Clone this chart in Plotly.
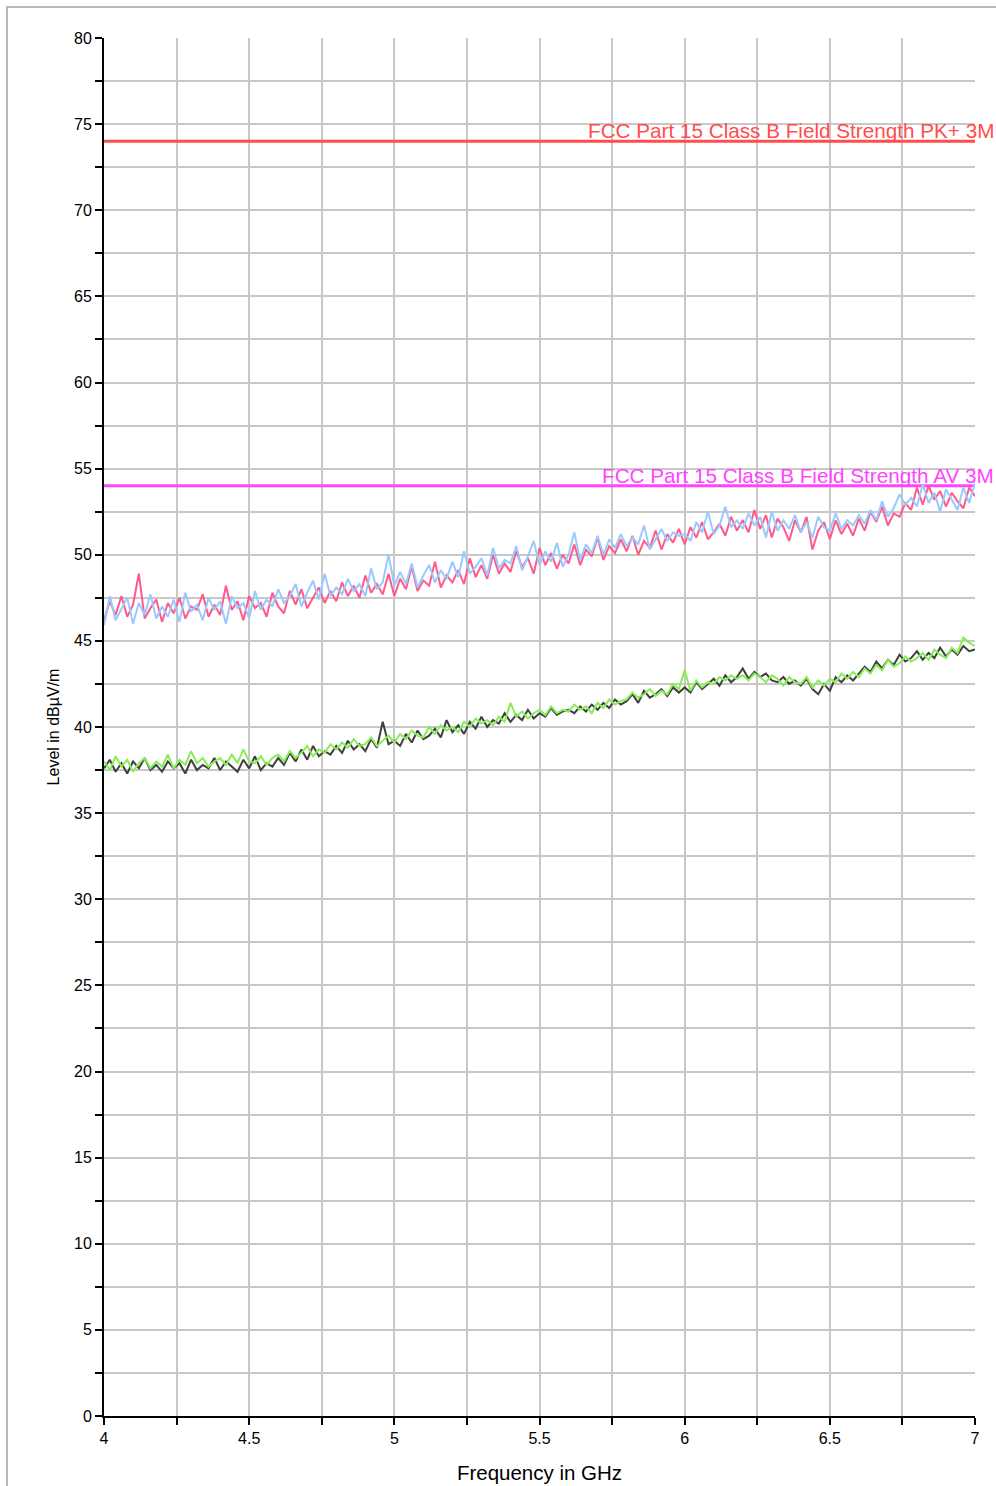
import numpy as np
import plotly.graph_objects as go

# Frequency sweep (GHz)
freq = np.round(np.linspace(4.0, 7.0, 151), 3).tolist()

# Peak detector trace 1 (pink)
peak_a = [
    46.2, 47.3, 46.5, 47.6, 46.4, 47.1, 48.9, 46.3, 46.9, 47.4,
    46.1, 47.2, 46.6, 47.5, 46.3, 47.0, 46.8, 47.7, 46.4, 47.1,
    46.5, 48.2, 46.8, 47.3, 46.2, 47.6, 46.9, 47.2, 46.4, 47.8,
    47.0, 46.6, 47.9, 47.1, 48.0, 46.9, 47.5, 48.1, 47.2, 47.9,
    47.3, 48.4, 47.6, 48.2, 47.5, 48.8, 47.8, 48.3, 47.7, 48.9,
    47.6, 48.6, 48.0, 49.3, 47.9, 48.5, 48.2, 49.6, 48.1, 48.8,
    48.4, 49.1, 48.3, 49.8, 48.7, 49.4, 48.6, 50.0, 48.9, 49.5,
    49.0, 50.2, 49.3, 49.8, 48.9, 50.4, 49.4, 50.1, 49.2, 50.0,
    49.5, 50.6, 49.4, 50.3, 49.9, 51.0, 49.7, 50.5, 50.1, 50.9,
    50.2, 51.1, 50.0, 50.8, 50.4, 51.4, 50.3, 51.2, 50.7, 51.5,
    50.6, 51.6, 51.0, 51.9, 50.9, 51.3, 51.8, 51.1, 52.2, 51.4,
    52.0, 51.3, 52.6, 51.5, 52.3, 51.0, 52.1, 51.6, 50.8, 52.0,
    51.3, 52.2, 50.3, 51.4, 51.9, 50.9, 52.0, 51.2, 51.8, 51.1,
    52.1, 51.4, 52.5, 51.9, 52.8, 51.7, 52.4, 52.2, 53.0, 52.6,
    53.9, 52.9, 54.0, 53.2, 53.7, 52.8, 53.6, 53.1, 52.7, 53.9,
    53.4,
]

# Peak detector trace 2 (light blue)
peak_b = [
    45.9, 47.6, 46.2, 46.9, 47.5, 46.0, 47.2, 46.5, 47.7, 46.3,
    47.0, 46.4, 47.4, 46.1, 47.8, 46.7, 47.1, 46.2, 47.5, 46.8,
    47.3, 46.0, 47.6, 46.9, 47.2, 46.3, 47.9, 46.8, 47.4, 47.0,
    48.0, 47.2, 47.6, 48.3, 47.0, 47.8, 48.5, 47.4, 48.9, 47.6,
    48.1, 47.7, 48.6, 47.9, 48.3, 47.6, 49.2, 48.0, 48.4, 50.0,
    48.2, 49.0, 48.3, 49.5, 48.1, 48.8, 49.4, 48.4, 49.1, 48.6,
    49.6, 48.7, 50.2, 48.9, 49.3, 49.8, 48.8, 50.4, 49.2, 49.7,
    49.5, 50.5, 49.1, 49.9, 50.8, 49.4, 50.2, 49.6, 50.7, 49.3,
    50.0, 51.3, 49.7, 50.6, 50.1, 51.1, 50.0, 50.9, 50.4, 51.2,
    50.5, 51.0, 50.6, 51.7, 50.3, 50.9, 51.5, 50.8, 51.3, 51.1,
    51.2, 50.8, 51.9, 51.3, 52.5, 51.2, 51.7, 52.8, 51.6, 52.0,
    51.5, 52.4, 51.7, 52.2, 51.0, 52.5, 51.4, 52.0, 51.5, 52.3,
    51.3, 51.9, 51.0, 52.2, 51.6, 51.4, 52.4, 51.5, 52.0, 51.7,
    52.3, 51.8, 52.6, 52.0, 53.1, 52.2, 52.7, 53.5, 52.9, 53.3,
    52.8, 54.1, 53.0, 53.6, 52.5, 53.8, 53.2, 52.6, 53.9, 53.0,
    54.2,
]

# Average detector trace 1 (dark grey)
avg_a = [
    37.6, 38.1, 37.4, 37.9, 37.3, 38.0, 37.6, 38.2, 37.5, 37.8,
    37.4, 38.0, 37.6, 37.9, 37.3, 38.1, 37.5, 37.8, 37.6, 38.2,
    37.5, 38.0, 37.7, 37.4, 38.1, 37.6, 38.3, 37.5, 37.9, 37.7,
    38.2, 37.8, 38.5, 38.0, 38.7, 38.1, 38.9, 38.3, 38.6, 38.4,
    38.9, 38.5, 39.2, 38.7, 39.0, 38.6, 39.3, 38.8, 40.3, 39.0,
    39.2, 38.9, 39.6, 39.1, 39.8, 39.3, 39.5, 39.9, 39.4, 40.4,
    39.7, 40.1, 39.6, 40.3, 39.9, 40.6, 40.0, 40.4, 40.2, 40.8,
    40.3, 40.7, 40.4, 41.0, 40.5, 40.8, 40.6, 41.1, 40.7, 40.9,
    41.0, 40.8, 41.2, 40.9, 41.3, 41.0, 41.4, 41.1, 41.6, 41.3,
    41.5, 41.9, 41.4, 42.1, 41.7, 41.9, 42.2, 41.8, 42.3, 42.0,
    42.3, 42.0, 42.6, 42.2, 42.5, 42.8, 42.4, 43.0, 42.6, 42.9,
    43.4, 42.8, 43.2, 42.9, 43.1, 42.7, 42.6, 42.9, 42.5, 42.7,
    42.4, 42.8, 42.2, 41.9, 42.5, 42.1, 42.9, 42.6, 43.0, 42.7,
    43.1, 43.5, 43.2, 43.8, 43.4, 43.9, 43.6, 44.2, 43.8, 44.0,
    44.4, 43.9, 44.3, 44.0, 44.6, 44.1, 44.5, 44.2, 44.7, 44.4,
    44.5,
]

# Average detector trace 2 (light green)
avg_b = [
    38.0, 37.5, 38.3, 37.7, 38.1, 37.4, 37.9, 38.2, 37.6, 38.0,
    37.7, 38.4, 37.6, 38.1, 37.8, 38.6, 37.9, 38.2, 37.7, 38.0,
    38.2, 37.8, 38.4, 37.9, 38.7, 38.0, 37.9, 38.3, 37.8, 38.2,
    38.4, 38.0, 38.6, 38.2, 38.5, 38.9, 38.3, 38.7, 38.5, 39.0,
    38.7, 39.1, 38.8, 39.3, 38.9, 39.0, 39.4, 38.9, 39.2, 39.5,
    39.1, 39.6, 39.3, 39.8, 39.5, 39.4, 40.0, 39.6, 40.1, 39.8,
    40.0, 39.7, 40.3, 40.0, 40.5, 40.2, 40.4, 40.1, 40.6, 40.3,
    41.4, 40.6, 40.9, 40.5, 40.8, 41.0, 40.7, 41.2, 40.8, 41.0,
    40.9, 41.3, 41.0, 41.2, 40.8, 41.4, 41.1, 41.6, 41.3, 41.5,
    41.6, 42.0, 41.7, 41.9, 42.2, 41.8, 42.1, 41.9, 42.5, 42.2,
    43.3, 42.1, 42.7, 42.3, 42.6, 42.5, 42.9, 42.7, 43.0, 42.8,
    43.0, 42.7, 43.1, 42.9, 42.6, 43.0, 42.8, 42.4, 42.9, 42.6,
    42.5, 42.9, 42.3, 42.7, 42.4, 42.8, 42.6, 43.1, 42.8, 43.2,
    42.9, 43.4, 43.1, 43.6, 43.3, 43.9, 43.5, 43.7, 44.1, 43.8,
    44.0, 44.3, 43.9, 44.5, 44.2, 44.0, 44.6, 44.3, 45.2, 44.9,
    44.7,
]

# Limit lines
limit_freq = [4.0, 7.0]
limit_pk = [74, 74]
limit_av = [54, 54]
limit_pk_label = "FCC Part 15 Class B Field Strength PK+ 3M"
limit_av_label = "FCC Part 15 Class B Field Strength AV 3M"

FONT = "Liberation Sans, Arial, sans-serif"

fig = go.Figure()
fig.add_trace(go.Scatter(x=limit_freq, y=limit_pk, mode="lines",
                         line=dict(color="#ff4d4d", width=3), hoverinfo="skip"))
fig.add_trace(go.Scatter(x=limit_freq, y=limit_av, mode="lines",
                         line=dict(color="#ff44ff", width=3), hoverinfo="skip"))
fig.add_trace(go.Scatter(x=freq, y=peak_a, mode="lines",
                         line=dict(color="#ff5a8c", width=2)))
fig.add_trace(go.Scatter(x=freq, y=peak_b, mode="lines",
                         line=dict(color="#99c9ff", width=2)))
fig.add_trace(go.Scatter(x=freq, y=avg_a, mode="lines",
                         line=dict(color="#404040", width=2)))
fig.add_trace(go.Scatter(x=freq, y=avg_b, mode="lines",
                         line=dict(color="#88ee55", width=2)))

W, H = 996, 1486
L, R, T, B = 104, 21, 38, 70
pw, ph = W - L - R, H - T - B
label_x = (996 - L) / pw

fig.add_annotation(x=label_x, xref="paper", y=limit_pk[0], yref="y",
                   text=limit_pk_label, showarrow=False, xanchor="right",
                   yanchor="bottom", yshift=-3,
                   font=dict(family=FONT, size=20.7, color="#ff4d4d"))
fig.add_annotation(x=label_x, xref="paper", y=limit_av[0], yref="y",
                   text=limit_av_label, showarrow=False, xanchor="right",
                   yanchor="bottom", yshift=-3,
                   font=dict(family=FONT, size=20.7, color="#ff44ff"))

# outer frame (top and left edges visible)
fig.add_shape(type="rect", xref="paper", yref="paper",
              x0=(7 - L) / pw, x1=(W + 20 - L) / pw,
              y0=(H - B - (H + 20)) / ph, y1=(H - B - 7) / ph,
              line=dict(color="#b8b8b8", width=2), layer="below")

fig.update_layout(
    width=W, height=H,
    margin=dict(l=L, r=R, t=T, b=B, autoexpand=False),
    paper_bgcolor="white", plot_bgcolor="white",
    showlegend=False,
    font=dict(family=FONT, size=16, color="black"),
    xaxis=dict(
        range=[4, 7], dtick=0.5, tick0=4, automargin=False,
        showgrid=True, gridcolor="#c8c8c8", gridwidth=2,
        showline=True, linecolor="black", linewidth=2,
        ticks="outside", ticklen=7, tickwidth=2, tickcolor="black",
        minor=dict(dtick=0.25, tick0=4, showgrid=True, gridcolor="#c8c8c8",
                   gridwidth=2, ticks="outside", ticklen=7, tickwidth=2,
                   tickcolor="black"),
        zeroline=False,
        tickfont=dict(size=16),
        title=dict(text="Frequency in GHz", font=dict(size=20.5), standoff=19),
    ),
    yaxis=dict(
        range=[0, 80], dtick=5, tick0=0, automargin=False,
        showgrid=True, gridcolor="#c8c8c8", gridwidth=2,
        showline=True, linecolor="black", linewidth=2,
        ticks="outside", ticklen=7, tickwidth=2, tickcolor="black",
        minor=dict(dtick=2.5, tick0=0, showgrid=True, gridcolor="#c8c8c8",
                   gridwidth=2, ticks="outside", ticklen=7, tickwidth=2,
                   tickcolor="black"),
        zeroline=False,
        tickfont=dict(size=16),
        title=dict(text="Level in dBµV/m", font=dict(size=16), standoff=10),
    ),
)

fig.write_html(
    "out.html",
    config={"displayModeBar": False},
    post_script="document.body.style.margin='0';document.body.style.overflow='hidden';",
)
